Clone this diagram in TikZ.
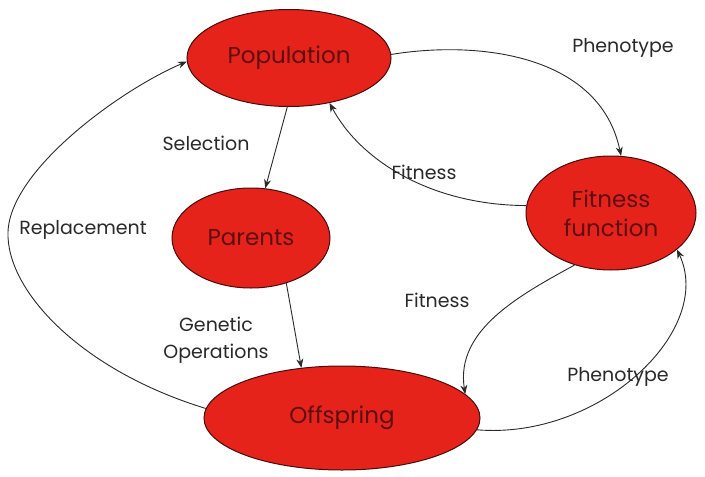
\documentclass[tikz,border=0pt]{standalone}
\usepackage{fontspec}
\setmainfont{Poppins}
\usetikzlibrary{shapes.geometric,arrows.meta}
\definecolor{nodefill}{HTML}{E5231B}
\definecolor{nodetext}{HTML}{5E0E0E}
\definecolor{nodeedge}{HTML}{4A0A0A}
\definecolor{linec}{HTML}{2A2A2A}
\begin{document}
\begin{tikzpicture}[x=1pt,y=-1pt,
 blob/.style={ellipse,draw=nodeedge,line width=1pt,fill=nodefill,inner sep=0pt,text=nodetext,font=\fontsize{23}{29}\selectfont,align=center},
 conn/.style={draw=linec,line width=0.9pt,-{Stealth[length=9pt,width=7pt]}},
 lbl/.style={text=linec,font=\fontsize{19}{27}\selectfont,align=center}]
\useasboundingbox[fill=white] (0,0) rectangle (705,477);
\node[blob,minimum width=204pt,minimum height=97pt] (pop) at (289,58) {Population};
\node[blob,minimum width=158pt,minimum height=100pt] (par) at (251,238) {Parents};
\node[blob,minimum width=170pt,minimum height=114pt] (fit) at (611,213) {Fitness\\function};
\node[blob,minimum width=276pt,minimum height=104pt] (off) at (342,418) {Offspring};

\draw[conn] (pop.268) -- (par.74);
\draw[conn] (pop.2) .. controls (480,40) and (600,55) .. (fit.80);
\draw[conn] (fit.175) .. controls (430,205) and (360,160) .. (pop.-48);
\draw[conn] (par.-52) -- (off.129);
\draw[conn] (fit.-125) .. controls (520,295) and (455,330) .. (off.11);
\draw[conn] (off.-5) .. controls (600,440) and (715,330) .. (fit.-29);
\draw[conn] (off.176) .. controls (80,370) and (6,290) .. (8,232) .. controls (10,170) and (120,90) .. (pop.182);

\node[lbl] (l1) at (623,48) {Phenotype};
\node[lbl] (l2) at (206,143) {Selection};
\node[lbl] (l3) at (424,172) {Fitness};
\node[lbl] (l4) at (83,230) {Replacement};
\node[lbl] (l5) at (437,300) {Fitness};
\node[lbl] (l6) at (216,340) {Genetic\\Operations};
\node[lbl] (l7) at (618,377) {Phenotype};
\end{tikzpicture}
\end{document}
